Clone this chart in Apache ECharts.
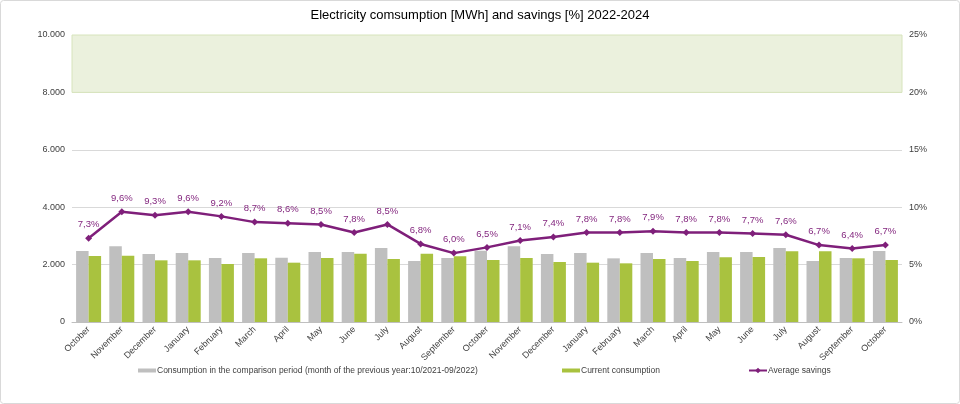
<!DOCTYPE html>
<html>
<head>
<meta charset="utf-8">
<script src="https://cdn.jsdelivr.net/npm/echarts@6/dist/echarts.min.js"></script>
<style>
html,body{margin:0;padding:0;background:#fff;}
#c{width:960px;height:404px;}
</style>
</head>
<body>
<div id="c"></div>
<script>
const categories = ['October','November','December','January','February','March','April','May','June','July','August','September','October','November','December','January','February','March','April','May','June','July','August','September','October'];
const previousYear = [2474,2637,2369,2404,2230,2404,2241,2439,2439,2578,2125,2230,2485,2637,2369,2404,2218,2404,2230,2439,2439,2578,2125,2230,2474];
const currentConsumption = [2300,2310,2149,2149,2021,2219,2067,2230,2381,2195,2381,2288,2160,2230,2091,2067,2044,2195,2125,2253,2265,2462,2462,2219,2160];
const savings = [7.3,9.6,9.3,9.6,9.2,8.7,8.6,8.5,7.8,8.5,6.8,6.0,6.5,7.1,7.4,7.8,7.8,7.9,7.8,7.8,7.7,7.6,6.7,6.4,6.7];
const leftTicks = {min:0, max:10000, interval:2000};
const rightTicks = {min:0, max:25, interval:5};
const seriesNames = ['Consumption in the comparison period (month of the previous year:10/2021-09/2022)','Current consumption','Average savings'];

const FONT = '"Liberation Sans",Arial,sans-serif';
const chart = echarts.init(document.getElementById('c'), null, {renderer:'canvas'});
function legend(name, left, icon){
  const l = {
    data:[name], left:left, top:361, itemWidth:18, itemHeight:4, itemGap:0,
    textStyle:{fontFamily:FONT, fontSize:8.5, color:'#404040', padding:[0,0,0,-4]},
    selectedMode:false
  };
  if (icon) l.icon = icon;
  return l;
}
const option = {
  animation:false,
  backgroundColor:'#fff',
  title:{
    text:'Electricity comsumption [MWh] and savings [%] 2022-2024',
    left:'center', top:4,
    textStyle:{fontFamily:FONT, fontSize:13, fontWeight:'normal', color:'#000'}
  },
  graphic:[{type:'rect', shape:{x:0.5,y:0.5,width:959,height:403,r:3}, style:{fill:'none', stroke:'#d9d9d9', lineWidth:1}, silent:true, z:-1}],
  legend:[
    legend(seriesNames[0],133,'rect'),
    legend(seriesNames[1],557,'rect'),
    Object.assign(legend(seriesNames[2],743),{itemHeight:7})
  ],
  grid:{left:72, right:58, top:35, bottom:82, containLabel:false},
  xAxis:{
    type:'category', data:categories,
    axisLine:{show:true, lineStyle:{color:'#bfbfbf'}},
    axisTick:{show:false},
    axisLabel:{rotate:45, interval:0, fontFamily:FONT, fontSize:9, color:'#404040', margin:6}
  },
  yAxis:[{
    type:'value', min:leftTicks.min, max:leftTicks.max, interval:leftTicks.interval,
    axisLine:{show:false}, axisTick:{show:false},
    splitLine:{lineStyle:{color:'#d9d9d9'}},
    axisLabel:{fontFamily:FONT, fontSize:9, color:'#404040', margin:7,
      formatter:v=>String(v).replace(/\B(?=(\d{3})+(?!\d))/g,'.')}
  },{
    type:'value', min:rightTicks.min, max:rightTicks.max, interval:rightTicks.interval,
    axisLine:{show:false}, axisTick:{show:false}, splitLine:{show:false},
    axisLabel:{fontFamily:FONT, fontSize:9, color:'#404040', margin:7, formatter:'{value}%'}
  }],
  series:[{
    name:seriesNames[0], type:'bar', data:previousYear,
    barWidth:12.5, barGap:'0%',
    itemStyle:{color:'#bfbfbf'},
    markArea:{silent:true, itemStyle:{color:'#ebf1dd', borderColor:'#d7e4bc', borderWidth:1},
      data:[[{yAxis:8000},{yAxis:10000}]]},
    z:2
  },{
    name:seriesNames[1], type:'bar', data:currentConsumption,
    barWidth:12.5, barGap:'0%',
    itemStyle:{color:'#a9c23f'},
    z:2
  },{
    name:seriesNames[2], type:'line', yAxisIndex:1, data:savings,
    symbol:'diamond', symbolSize:7,
    lineStyle:{color:'#7f1f7a', width:2.5},
    itemStyle:{color:'#7f1f7a'},
    label:{show:true, position:'top', distance:5, color:'#7f1f7a', fontFamily:FONT, fontSize:9.5,
      formatter:p=>p.value.toFixed(1).replace('.',',')+'%'},
    z:5
  }]
};
chart.setOption(option);
</script>
</body>
</html>
